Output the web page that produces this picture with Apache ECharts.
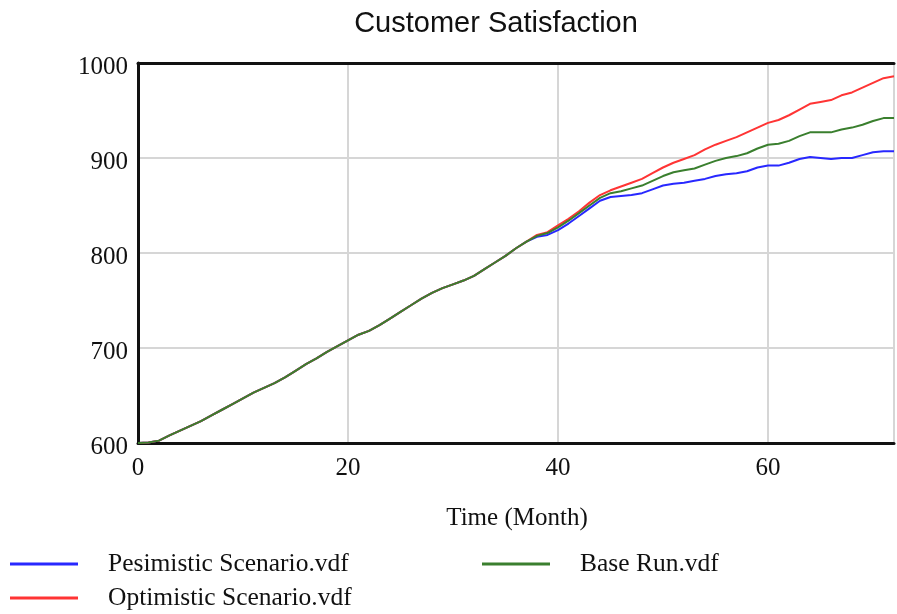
<!DOCTYPE html>
<html>
<head>
<meta charset="utf-8">
<script src="https://cdn.jsdelivr.net/npm/echarts@6/dist/echarts.min.js"></script>
<style>html,body{margin:0;padding:0;background:#fff;}#c{width:897px;height:614px;}</style>
</head>
<body>
<div id="c"></div>
<script>
const months = [];
for (let i = 0; i <= 72; i++) months.push(i);

const common = [600,600.5,602.5,608,613,618,623,629,635,641,647,653,658,663,669,676,683,689,696,702,708,714,718,724,731,738,745,752,758,763,767,771,776,783,790,797,805,812];

const pesimistic = common.concat([817,819,824,831,839,847,855,859,860,861,863,867,871,873,874,876,878,881,883,884,886,890,892,892,895,899,901,900,899,900,900,903,906,907,907]);
const baseRun = common.concat([818,821,827,834,842,850,858,863,865,868,871,876,881,885,887,889,893,897,900,902,905,910,914,915,918,923,927,927,927,930,932,935,939,942,942]);
const optimistic = common.concat([819,822,829,836,844,853,861,866,870,874,878,884,890,895,899,903,909,914,918,922,927,932,937,940,945,951,957,959,961,966,969,974,979,984,986]);

const xTicks = [0,20,40,60];
const yTicks = [600,700,800,900,1000];

const names = ['Pesimistic Scenario.vdf','Optimistic Scenario.vdf','Base Run.vdf'];
const colors = ['#2828ff','#ff3434','#3a7f2e'];

function pairs(vals){ return months.map((m,i)=>[m, vals[i]]); }

const serif = 'Liberation Serif';
const legendText = {fontFamily: serif, fontSize: 25.5, color: '#111', padding: [0,0,0,25]};
const legendBase = {icon: 'rect', itemWidth: 68, itemHeight: 3, textStyle: legendText, selectedMode: false, padding: 0};
const frame = {show: true, lineStyle: {color: '#111', width: 3}};

const chart = echarts.init(document.getElementById('c'), null, {renderer: 'canvas'});
chart.setOption({
  animation: false,
  backgroundColor: '#ffffff',
  title: {
    text: 'Customer Satisfaction',
    left: 491, top: 4, textAlign: 'center',
    textStyle: {fontFamily: 'Liberation Sans', fontSize: 29, fontWeight: 'normal', color: '#111'}
  },
  legend: [
    Object.assign({}, legendBase, {data: [names[0]], left: 10, top: 551}),
    Object.assign({}, legendBase, {data: [names[2]], left: 482, top: 551}),
    Object.assign({}, legendBase, {data: [names[1]], left: 10, top: 585})
  ],
  grid: {left: 138, top: 63, width: 761, height: 380, show: false},
  xAxis: [{
    type: 'value', min: 0, max: 72, interval: 20, position: 'bottom',
    axisLine: frame, axisTick: {show: false},
    axisLabel: {fontFamily: serif, fontSize: 25, color: '#111', margin: 13,
      formatter: v => xTicks.indexOf(v) >= 0 ? String(v) : ''},
    splitLine: {show: true, lineStyle: {color: '#d6d6d6', width: 2}}
  }, {
    type: 'value', min: 0, max: 72, position: 'top',
    axisLine: frame, axisTick: {show: false}, axisLabel: {show: false}, splitLine: {show: false}
  }],
  yAxis: {
    type: 'value', min: 600, max: 1000, interval: 100,
    axisLine: frame, axisTick: {show: false},
    axisLabel: {margin: 10,
      formatter: v => yTicks.indexOf(v) >= 0 ? '{a|' + v + '}' : '',
      rich: {a: {fontFamily: serif, fontSize: 25, color: '#111', padding: [8,0,0,0]}}},
    splitLine: {show: true, lineStyle: {color: '#d6d6d6', width: 2}}
  },
  graphic: [{
    type: 'text', x: 517, y: 518,
    style: {text: 'Time (Month)', font: '25px "Liberation Serif"', fill: '#111', align: 'center', verticalAlign: 'middle'}
  }],
  series: [
    {name: names[0], type: 'line', data: pairs(pesimistic), showSymbol: false, lineStyle: {color: colors[0], width: 2}, itemStyle: {color: colors[0]}, z: 2},
    {name: names[1], type: 'line', data: pairs(optimistic), showSymbol: false, lineStyle: {color: colors[1], width: 2}, itemStyle: {color: colors[1]}, z: 3},
    {name: names[2], type: 'line', data: pairs(baseRun), showSymbol: false, lineStyle: {color: colors[2], width: 2}, itemStyle: {color: colors[2]}, z: 4}
  ]
});
</script>
</body>
</html>
